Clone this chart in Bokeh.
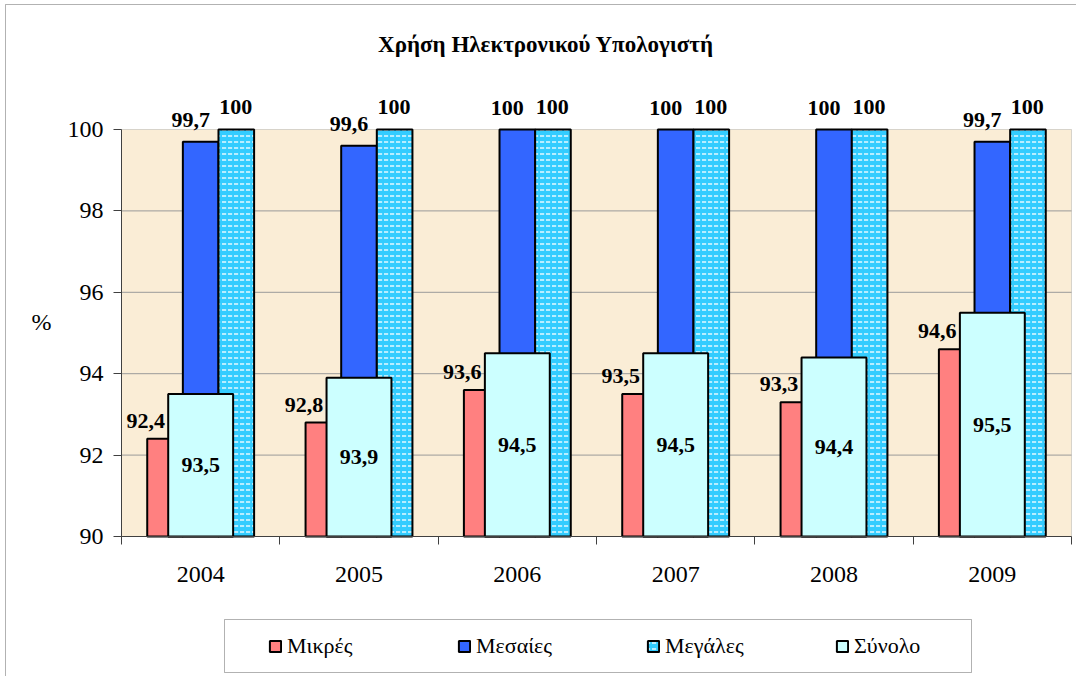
from bokeh.plotting import figure
from bokeh.models import (ColumnDataSource, Range1d, FixedTicker, LabelSet, Label,
                          Legend, LegendItem, BoxAnnotation)
from bokeh.transform import dodge
from bokeh.core.properties import value
from bokeh.embed import file_html
from bokeh.resources import INLINE

# ---- data ----
years = ["2004", "2005", "2006", "2007", "2008", "2009"]
mikres = [92.4, 92.8, 93.6, 93.5, 93.3, 94.6]
mesaies = [99.7, 99.6, 100, 100, 100, 99.7]
megales = [100, 100, 100, 100, 100, 100]
synolo = [93.5, 93.9, 94.5, 94.5, 94.4, 95.5]
series_names = ["Μικρές", "Μεσαίες", "Μεγάλες", "Σύνολο"]
title_text = "Χρήση Ηλεκτρονικού Υπολογιστή"
y_label = "%"
y_ticks = [90, 92, 94, 96, 98, 100]
y_min, y_max = 90, 100

# ---- layout (pixels on the page) ----
W, H = 1076, 676
ORG_X, ORG_Y = 2, 1                 # where the figure lands on the page
PA_L, PA_R, PA_T, PA_B = 123, 1073, 130, 537   # plot area
n = len(years)
sx = (PA_R - PA_L) / n              # px per category
sy = (PA_B - PA_T) / (y_max - y_min)  # px per unit


def xd(px):
    return -0.5 + (px - PA_L) / sx


def yd(py):
    return y_min + (PA_B - py) / sy


def fmt(v):
    return ("%g" % v).replace(".", ",")


idx = list(range(n))
src = ColumnDataSource(dict(
    x=idx,
    mikres=mikres, mesaies=mesaies, megales=megales, synolo=synolo,
    mikres_lbl=[fmt(v) for v in mikres],
    mesaies_lbl=[fmt(v) for v in mesaies],
    megales_lbl=[fmt(v) for v in megales],
    synolo_lbl=[fmt(v) for v in synolo],
    synolo_mid=[(y_min + v) / 2 for v in synolo],
))

SERIF = "Liberation Serif"

p = figure(width=W, height=H, output_backend="svg", toolbar_location=None,
           x_range=Range1d(xd(ORG_X), xd(ORG_X + W)),
           y_range=Range1d(yd(ORG_Y + H), yd(ORG_Y)),
           min_border=0, min_border_left=0, min_border_right=0,
           min_border_top=0, min_border_bottom=0)
p.background_fill_color = "white"
p.border_fill_color = "white"
p.outline_line_color = None
p.grid.visible = False

# outer chart border (left / top visible)
p.add_layout(BoxAnnotation(left=xd(7), top=yd(5), right=xd(ORG_X + W + 50),
                           bottom=yd(ORG_Y + H + 50), fill_color=None,
                           line_color="black", line_width=1, level="image"))
# plot area
p.add_layout(BoxAnnotation(left=-0.5, right=n - 0.5, bottom=y_min, top=y_max,
                           fill_color="#FAEDD6", fill_alpha=1,
                           line_color="#808080", line_width=1, level="image"))

# horizontal grid lines
gy = y_ticks[1:-1]
p.segment(x0=[-0.5] * len(gy), x1=[n - 0.5] * len(gy), y0=gy, y1=gy,
          line_color="#9A9A9A", line_width=1)

# y axis
p.yaxis.fixed_location = -0.5
p.yaxis.bounds = (y_min, y_max)
p.yaxis.ticker = FixedTicker(ticks=y_ticks)
p.yaxis.major_tick_in = 0
p.yaxis.major_tick_out = 8
p.yaxis.minor_tick_line_color = None
p.yaxis.axis_line_color = "#404040"
p.yaxis.major_tick_line_color = "#404040"
p.yaxis.major_label_text_font = SERIF
p.yaxis.major_label_text_font_size = "24px"
p.yaxis.major_label_text_color = "black"
p.yaxis.major_label_standoff = 10

# x axis: labels at centres, tick marks at category boundaries
p.xaxis.fixed_location = y_min
p.xaxis.bounds = (-0.5, n - 0.5)
p.xaxis.ticker = FixedTicker(ticks=idx, minor_ticks=[i - 0.5 for i in range(n + 1)])
p.xaxis.major_label_overrides = {i: y for i, y in zip(idx, years)}
p.xaxis.major_tick_in = 0
p.xaxis.major_tick_out = 0
p.xaxis.minor_tick_in = 0
p.xaxis.minor_tick_out = 8
p.xaxis.minor_tick_line_color = "#404040"
p.xaxis.axis_line_color = "#404040"
p.xaxis.major_label_text_font = SERIF
p.xaxis.major_label_text_font_size = "24px"
p.xaxis.major_label_text_color = "black"
p.xaxis.major_label_standoff = 22

BW = 0.225
r1 = p.vbar(x=dodge("x", -BW), top="mikres", bottom=y_min, width=BW, source=src,
            fill_color="#FF8080", line_color="black", line_width=2)
r2 = p.vbar(x=dodge("x", 0), top="mesaies", bottom=y_min, width=BW, source=src,
            fill_color="#3366FF", line_color="black", line_width=2)
r3 = p.vbar(x=dodge("x", BW), top="megales", bottom=y_min, width=BW, source=src,
            fill_color="#33CCFF", line_color="black", line_width=2,
            hatch_pattern="horizontal_dash", hatch_color="white",
            hatch_scale=6, hatch_weight=1.3)
r4 = p.vbar(x="x", top="synolo", bottom=y_min, width=0.41, source=src,
            fill_color="#CCFFFF", line_color="black", line_width=2)

lbl_kw = dict(source=src, text_font=value(SERIF), text_font_size="22px",
              text_font_style="bold", text_color="black", text_align="center")
p.add_layout(LabelSet(x="x", y="mikres", text="mikres_lbl", x_offset=-55, y_offset=11,
                      text_baseline="alphabetic", **lbl_kw))
p.add_layout(LabelSet(x="x", y="mesaies", text="mesaies_lbl", x_offset=-10, y_offset=15,
                      text_baseline="alphabetic", **lbl_kw))
p.add_layout(LabelSet(x="x", y="megales", text="megales_lbl", x_offset=35, y_offset=16,
                      text_baseline="alphabetic", **lbl_kw))
p.add_layout(LabelSet(x="x", y="synolo_mid", text="synolo_lbl", x_offset=0, y_offset=0,
                      text_baseline="middle", **lbl_kw))

# title and "%" label
p.add_layout(Label(x=xd(547.5), y=yd(45), text=title_text,
                   text_font=SERIF, text_font_size="23px", text_font_style="bold",
                   text_align="center", text_baseline="middle", text_color="black"))
p.add_layout(Label(x=xd(43), y=yd(322), text=y_label,
                   text_font=SERIF, text_font_size="24px",
                   text_align="center", text_baseline="middle", text_color="black"))

# legend frame and legend
p.add_layout(BoxAnnotation(left=xd(226), right=xd(973), top=yd(620), bottom=yd(673),
                           fill_color="white", fill_alpha=1, line_color="black",
                           line_width=1))
legend = Legend(items=[LegendItem(label=nm, renderers=[r]) for nm, r in
                       zip(series_names, [r1, r2, r3, r4])],
                orientation="horizontal",
                location=(270 - ORG_X, ORG_Y + H - 660),
                glyph_width=14, glyph_height=14, label_standoff=5, spacing=90,
                padding=0, margin=0, label_width=80,
                border_line_color=None, background_fill_alpha=0,
                label_text_font=SERIF, label_text_font_size="22px",
                label_text_color="black")
p.add_layout(legend)

open("out.html", "w").write(file_html(p, INLINE))
